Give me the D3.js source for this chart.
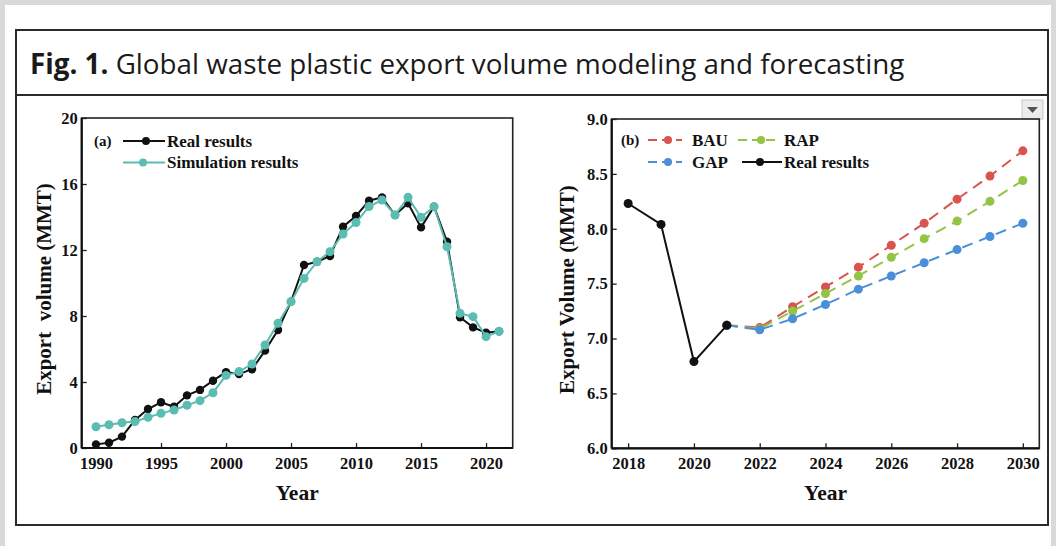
<!DOCTYPE html>
<html>
<head>
<meta charset="utf-8">
<script src="https://cdn.jsdelivr.net/npm/d3@7"></script>
<style>
  html, body { margin: 0; padding: 0; background: #d9d9d9; }
  svg { display: block; }
  .tick text { font-family: "Liberation Serif", "Times New Roman", serif; font-weight: bold; fill: #111; }
</style>
</head>
<body>
<svg id="fig" width="1056" height="546"></svg>
<script>
// ---- Panel (a): historical export volume, real vs. simulated ----
const yearsA = [1990,1991,1992,1993,1994,1995,1996,1997,1998,1999,2000,2001,2002,2003,2004,2005,
                2006,2007,2008,2009,2010,2011,2012,2013,2014,2015,2016,2017,2018,2019,2020,2021];
const realA = [0.22,0.32,0.69,1.70,2.36,2.77,2.50,3.19,3.52,4.08,4.60,4.48,4.77,5.90,7.15,8.87,
               11.09,11.29,11.64,13.41,14.06,14.99,15.19,14.12,14.83,13.37,14.63,12.50,7.92,7.31,6.99,7.07];
const simA  = [1.29,1.41,1.53,1.60,1.86,2.10,2.30,2.59,2.87,3.35,4.40,4.63,5.09,6.24,7.56,8.87,
               10.28,11.29,11.90,12.97,13.66,14.63,15.03,14.12,15.19,13.98,14.63,12.20,8.16,7.96,6.75,7.07];
const yTicksA = [0,4,8,12,16,20];
const xTicksA = [1990,1995,2000,2005,2010,2015,2020];

// ---- Panel (b): scenario forecasts ----
const yearsReal = [2018,2019,2020,2021];
const realB = [8.23,8.04,6.79,7.12];
const yearsFc = [2021,2022,2023,2024,2025,2026,2027,2028,2029,2030];
const bau = [7.12,7.10,7.29,7.47,7.65,7.85,8.05,8.27,8.48,8.71];
const rap = [7.12,7.09,7.25,7.41,7.57,7.74,7.91,8.07,8.25,8.44];
const gap = [7.12,7.08,7.18,7.31,7.45,7.57,7.69,7.81,7.93,8.05];
const yTicksB = [6.0,6.5,7.0,7.5,8.0,8.5,9.0];
const xTicksB = [2018,2020,2022,2024,2026,2028,2030];

const serif = '"Liberation Serif", "Times New Roman", serif';
const sans = '"Open Sans", "Noto Sans", sans-serif';
const C = { black: "#111111", teal: "#5bbdb2", red: "#d9534f", green: "#93c445", blue: "#4a8fd8" };

const svg = d3.select("#fig");

// page background and figure frame
svg.append("rect").attr("x", 0).attr("y", 0).attr("width", 1056).attr("height", 546).attr("fill", "#d9d9d9");
svg.append("rect").attr("x", 5).attr("y", 5).attr("width", 1046).attr("height", 541).attr("fill", "#ffffff");
svg.append("rect").attr("x", 16).attr("y", 30).attr("width", 1032).attr("height", 495)
  .attr("fill", "none").attr("stroke", "#2a2a2a").attr("stroke-width", 2);
svg.append("line").attr("x1", 16).attr("x2", 1048).attr("y1", 95).attr("y2", 95)
  .attr("stroke", "#2a2a2a").attr("stroke-width", 2);

// figure caption
const title = svg.append("text").attr("x", 30).attr("y", 74)
  .attr("font-family", sans).attr("font-size", 27.8).attr("fill", "#1a1a1a");
title.append("tspan").attr("font-weight", "bold").text("Fig. 1.");
title.append("tspan").text(" Global waste plastic export volume modeling and forecasting");

// small dropdown button
svg.append("rect").attr("x", 1022).attr("y", 100).attr("width", 21).attr("height", 19)
  .attr("fill", "#ececec").attr("stroke", "#c8c8c8");
svg.append("path").attr("d", "M1027,107 L1038,107 L1032.5,113 Z").attr("fill", "#555");

function panel(opts) {
  const g = svg.append("g");
  const x = d3.scaleLinear().domain(opts.xDomain).range([opts.left, opts.right]);
  const y = d3.scaleLinear().domain(opts.yDomain).range([opts.bottom, opts.top]);

  // x axis with inward ticks
  const gx = g.append("g").attr("transform", `translate(0,${opts.bottom})`)
    .call(d3.axisBottom(x).tickValues(opts.xTicks).tickFormat(d3.format("d"))
      .tickSizeInner(-5).tickSizeOuter(0).tickPadding(9));
  gx.selectAll("text").attr("font-size", 16.5);
  const gy = g.append("g").attr("transform", `translate(${opts.left},0)`)
    .call(d3.axisLeft(y).tickValues(opts.yTicks).tickFormat(opts.yFormat)
      .tickSizeInner(-5).tickSizeOuter(0).tickPadding(4));
  gy.selectAll("text").attr("font-size", 16.5);
  g.selectAll(".domain").remove();
  g.selectAll(".tick line").attr("stroke", "#222").attr("stroke-width", 1.3);

  // plot frame
  g.append("rect").attr("x", opts.left).attr("y", opts.top)
    .attr("width", opts.right - opts.left).attr("height", opts.bottom - opts.top)
    .attr("fill", "none").attr("stroke", "#222").attr("stroke-width", 1.6);
  g.append("line").attr("x1", opts.left).attr("x2", opts.left).attr("y1", opts.top).attr("y2", opts.bottom)
    .attr("stroke", "#111").attr("stroke-width", 2.2);
  g.append("line").attr("x1", opts.left).attr("x2", opts.right).attr("y1", opts.bottom).attr("y2", opts.bottom)
    .attr("stroke", "#111").attr("stroke-width", 2.2);

  // axis titles
  g.append("text").attr("transform", `translate(${opts.yTitleX},${(opts.top + opts.bottom) / 2 + 6}) rotate(-90)`)
    .attr("text-anchor", "middle").attr("font-family", serif).attr("font-weight", "bold")
    .attr("font-size", 21).attr("fill", "#111").attr("xml:space", "preserve").text(opts.yTitle);
  g.append("text").attr("x", (opts.left + opts.right) / 2).attr("y", 500)
    .attr("text-anchor", "middle").attr("font-family", serif).attr("font-weight", "bold")
    .attr("font-size", 21.5).attr("fill", "#111").text("Year");

  return { g, x, y };
}

function series(p, xs, ys, color, r, dash) {
  const pts = xs.map((d, i) => [d, ys[i]]);
  const line = d3.line().x(d => p.x(d[0])).y(d => p.y(d[1]));
  p.g.append("path").datum(pts).attr("d", line).attr("fill", "none")
    .attr("stroke", color).attr("stroke-width", 2).attr("stroke-dasharray", dash || null);
  p.g.selectAll(null).data(pts).enter().append("circle")
    .attr("cx", d => p.x(d[0])).attr("cy", d => p.y(d[1])).attr("r", r).attr("fill", color);
}

function legendItem(g, x1, x2, cx, y, color, dash, label, tx) {
  g.append("line").attr("x1", x1).attr("x2", x2).attr("y1", y).attr("y2", y)
    .attr("stroke", color).attr("stroke-width", 2).attr("stroke-dasharray", dash || null);
  g.append("circle").attr("cx", cx).attr("cy", y).attr("r", 4).attr("fill", color);
  g.append("text").attr("x", tx).attr("y", y + 5.5).attr("font-family", serif).attr("font-weight", "bold")
    .attr("font-size", 17).attr("fill", "#111").text(label);
}

// ---- draw panel (a) ----
const pa = panel({
  left: 81.7, right: 512.7, top: 118, bottom: 448,
  xDomain: [1988.9, 2022.05], yDomain: [0, 20],
  xTicks: xTicksA, yTicks: yTicksA, yFormat: d3.format("d"),
  yTitle: "Export  volume (MMT)", yTitleX: 51
});
series(pa, yearsA, realA, C.black, 4.2);
series(pa, yearsA, simA, C.teal, 4.5);
pa.g.append("text").attr("x", 94).attr("y", 146).attr("font-family", serif).attr("font-weight", "bold")
  .attr("font-size", 15).attr("fill", "#111").text("(a)");
legendItem(pa.g, 123, 165, 146, 141, C.black, null, "Real results", 167);
legendItem(pa.g, 123, 165, 143, 162.5, C.teal, null, "Simulation results", 167);

// ---- draw panel (b) ----
const pb = panel({
  left: 611.7, right: 1039.3, top: 119, bottom: 448.3,
  xDomain: [2017.5, 2030.5], yDomain: [6, 9],
  xTicks: xTicksB, yTicks: yTicksB, yFormat: d3.format(".1f"),
  yTitle: "Export Volume (MMT)", yTitleX: 574
});
const dash = "11,7";
series(pb, yearsFc, bau, C.red, 4.5, dash);
series(pb, yearsFc, rap, C.green, 4.5, dash);
series(pb, yearsFc, gap, C.blue, 4.5, dash);
series(pb, yearsReal, realB, C.black, 4.5);
pb.g.append("text").attr("x", 621).attr("y", 145).attr("font-family", serif).attr("font-weight", "bold")
  .attr("font-size", 15).attr("fill", "#111").text("(b)");
legendItem(pb.g, 648, 682, 668, 140, C.red, "9,5", "BAU", 692);
legendItem(pb.g, 738, 776, 761, 140, C.green, "9,5", "RAP", 784);
legendItem(pb.g, 648, 682, 668, 162, C.blue, "9,5", "GAP", 692);
legendItem(pb.g, 742, 782, 760, 162, C.black, null, "Real results", 784);
</script>
</body>
</html>
